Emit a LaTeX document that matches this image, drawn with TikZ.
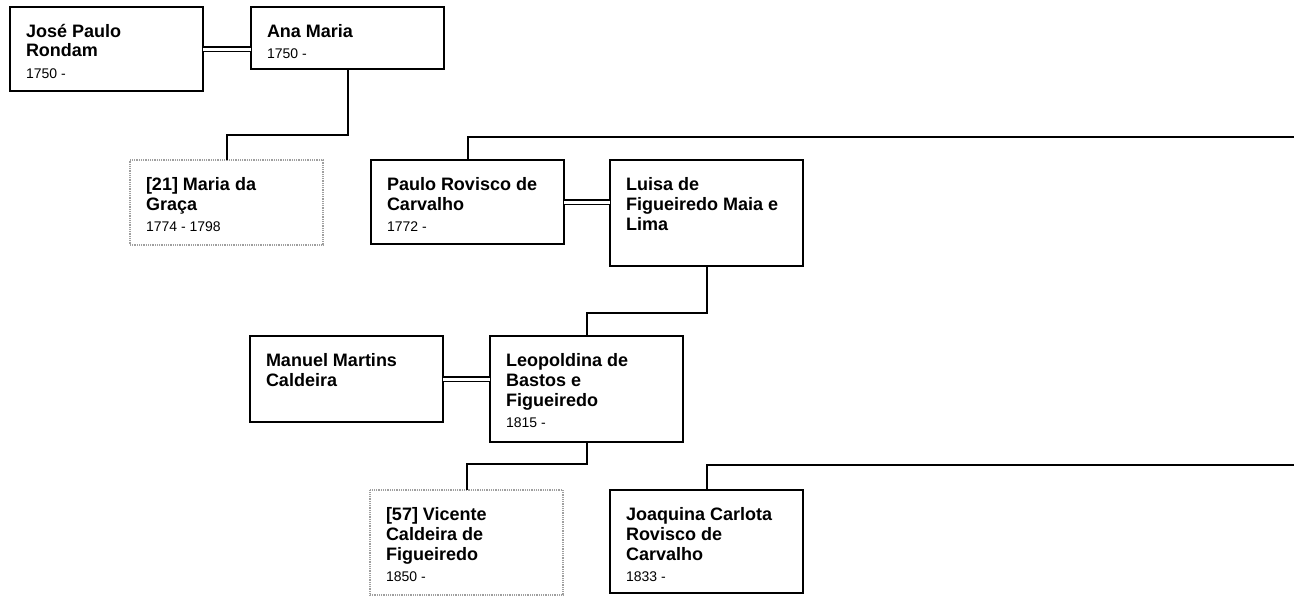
\documentclass[tikz,border=0pt]{standalone}
\usepackage{fontspec}
\setmainfont{Liberation Sans}
\usepackage{tikz}
\usetikzlibrary{positioning}

\hyphenpenalty=10000
\exhyphenpenalty=10000
\newcommand{\pname}[1]{{\fontsize{18}{20}\selectfont\bfseries #1\par}}
\newcommand{\pyear}[1]{{\fontsize{14}{21}\selectfont #1\par}}

\begin{document}
\begin{tikzpicture}[x=1pt,y=-1pt,
    person/.style={draw, line width=2.2pt, rectangle, anchor=north west, align=flush left,
      text width=161pt, inner xsep=16pt, inner ysep=12pt, text height=18pt, outer sep=0pt},
    ghost/.style={person, draw=gray!75, line width=1.4pt, dash pattern=on 1pt off 0.8pt},
    link/.style={line width=2pt},
    marriage/.style={double, double distance=3pt, line width=1.5pt}]
       \useasboundingbox (0,0) rectangle (1294,597);

       % Casal de cima
       \node[person, text depth=42pt] (rondam) at (10,7) {\pname{José Paulo\\Rondam}\pyear{1750 -}};
       \node[person, text depth=20pt, right=48pt of rondam.north east, anchor=north west] (ana) {\pname{Ana Maria}\pyear{1750 -}};
       \node[ghost, text depth=43pt] (graca) at (130,160) {\pname{[21] Maria da\\Graça}\pyear{1774 - 1798}};

       % Segundo casal
       \node[person, text depth=42pt] (paulo) at (371,160) {\pname{Paulo Rovisco de\\Carvalho}\pyear{1772 -}};
       \node[person, text depth=64pt, right=46pt of paulo.north east, anchor=north west] (luisa) {\pname{Luisa de\\Figueiredo Maia e\\Lima}};

       % Terceiro casal
       \node[person, text depth=44pt] (manuel) at (250,336) {\pname{Manuel Martins\\Caldeira}};
       \node[person, text depth=64pt, right=47pt of manuel.north east, anchor=north west] (leo) {\pname{Leopoldina de\\Bastos e\\Figueiredo}\pyear{1815 -}};

       % Filhos
       \node[ghost, text depth=63pt] (vicente) at (370,490) {\pname{[57] Vicente\\Caldeira de\\Figueiredo}\pyear{1850 -}};
       \node[person, text depth=61pt] (joaquina) at (610,490) {\pname{Joaquina Carlota\\Rovisco de\\Carvalho}\pyear{1833 -}};

       \coordinate (paulo-up) at (1294,137);
       \coordinate (joaquina-up) at (1294,465);

       \draw[marriage] (rondam.east) -- (rondam.east -| ana.west);
       \draw[marriage] (paulo.east) -- (paulo.east -| luisa.west);
       \draw[marriage] (manuel.east) -- (manuel.east -| leo.west);

       \draw[link] (ana.south) -- ++(0,66) -| (graca.north);
       \draw[link] (paulo.north) |- (paulo-up);
       \draw[link] (luisa.south) -- ++(0,47) -| (leo.north);
       \draw[link] (leo.south) -- ++(0,22) -| (vicente.north);
       \draw[link] (joaquina.north) |- (joaquina-up);
    \end{tikzpicture}
\end{document}
